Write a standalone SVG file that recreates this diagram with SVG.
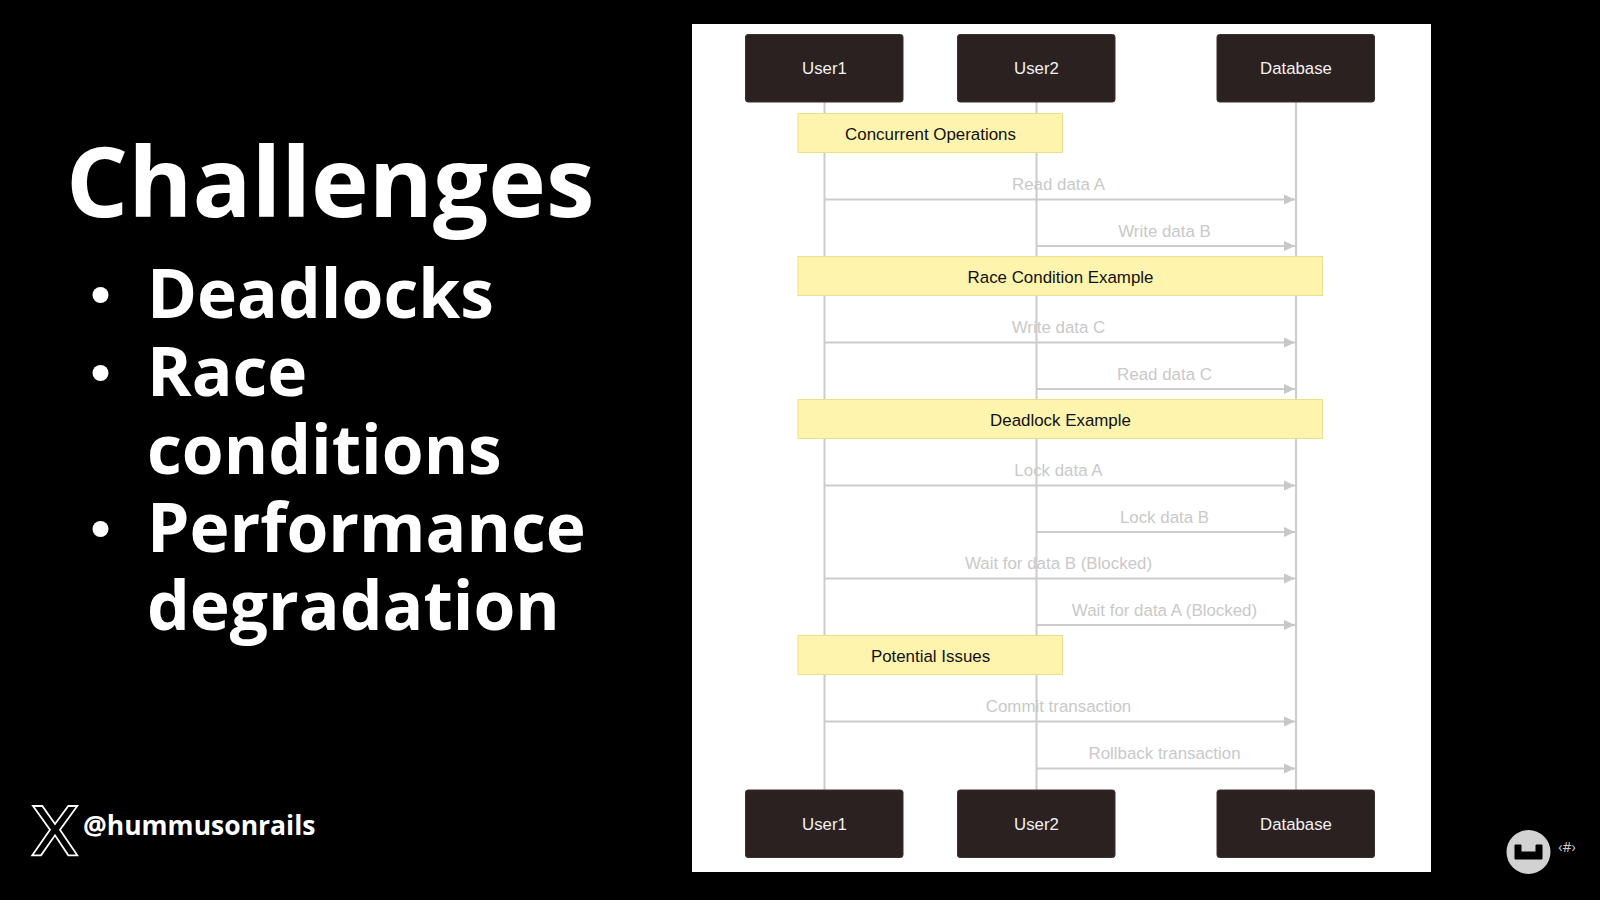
<svg xmlns="http://www.w3.org/2000/svg" width="1600" height="900" viewBox="0 0 1600 900">
<defs>
<marker id="ah" markerUnits="userSpaceOnUse" markerWidth="12" markerHeight="12" refX="11" refY="6" orient="auto"><path d="M0 1L11 6L0 11Z" fill="#c8c8c8"/></marker>
</defs>
<style>
.t{font-family:"Open Sans","Noto Sans",sans-serif;font-weight:700;fill:#fff}
.a{fill:#2b2120;stroke:#3a3130;stroke-width:1}
.at{font-family:"Liberation Sans",Arial,sans-serif;font-size:16.800px;fill:#f2f2f2;text-anchor:middle}
.n{fill:#fff4ad;stroke:#e9e08a;stroke-width:1}
.nt{font-family:"Liberation Sans",Arial,sans-serif;font-size:16.900px;fill:#111;text-anchor:middle}
.l{stroke:#cccccc;stroke-width:2;fill:none}
.m{stroke:#cccccc;stroke-width:2;fill:none;marker-end:url(#ah)}
.mt{font-family:"Liberation Sans",Arial,sans-serif;font-size:16.900px;fill:#c9c9c9;text-anchor:middle}
</style>
<rect width="1600" height="900" fill="#000"/>
<g id="slide-text">
<text class="t" x="66" y="217" font-size="97.700">Challenges</text>
<circle cx="100.500" cy="295" r="8" fill="#fff"/>
<text class="t" x="147" y="318" font-size="67.700">Deadlocks</text>
<circle cx="100.500" cy="373" r="8" fill="#fff"/>
<text class="t" x="147" y="396" font-size="67.700">Race</text>
<text class="t" x="147" y="474" font-size="67.700">conditions</text>
<circle cx="100.500" cy="529" r="8" fill="#fff"/>
<text class="t" x="147" y="552" font-size="67.700">Performance</text>
<text class="t" x="147" y="630" font-size="67.700">degradation</text>
</g>
<g id="handle">
<path d="M33 806H42.300L55 824L68.300 806H77.300L60 829.700L77.300 855.300H68.300L55 835.300L41 855.300H32.300L50 829.700Z" fill="none" stroke="#fff" stroke-width="1.800" stroke-linejoin="miter"/>
<text class="t" x="83" y="835" font-size="26.500">@hummusonrails</text>
</g>
<rect id="panel" x="692" y="24" width="739" height="848" fill="#fff"/>
<g id="connectors">
<path class="l" d="M824.500 102V790M1036.500 102V790M1296 102V790"/>
<path class="m" d="M825 199.500H1295"/>
<path class="m" d="M1037 246H1295"/>
<path class="m" d="M825 342.500H1295"/>
<path class="m" d="M1037 389H1295"/>
<path class="m" d="M825 485.500H1295"/>
<path class="m" d="M1037 532H1295"/>
<path class="m" d="M825 578.500H1295"/>
<path class="m" d="M1037 625H1295"/>
<path class="m" d="M825 721.500H1295"/>
<path class="m" d="M1037 768.500H1295"/>
<text class="mt" x="1058.500" y="190">Read data A</text>
<text class="mt" x="1164.500" y="236.500">Write data B</text>
<text class="mt" x="1058.500" y="333">Write data C</text>
<text class="mt" x="1164.500" y="379.500">Read data C</text>
<text class="mt" x="1058.500" y="476">Lock data A</text>
<text class="mt" x="1164.500" y="522.500">Lock data B</text>
<text class="mt" x="1058.500" y="569">Wait for data B (Blocked)</text>
<text class="mt" x="1164.500" y="615.500">Wait for data A (Blocked)</text>
<text class="mt" x="1058.500" y="712">Commit transaction</text>
<text class="mt" x="1164.500" y="758.500">Rollback transaction</text>
</g>
<g id="user1-top"><rect class="a" x="745.500" y="34.500" width="157.500" height="67.500" rx="2.500"/><text class="at" x="824.500" y="74">User1</text></g>
<g id="user2-top"><rect class="a" x="957.500" y="34.500" width="157.500" height="67.500" rx="2.500"/><text class="at" x="1036.500" y="74">User2</text></g>
<g id="database-top"><rect class="a" x="1217" y="34.500" width="157.500" height="67.500" rx="2.500"/><text class="at" x="1296" y="74">Database</text></g>
<g id="note-concurrent"><rect class="n" x="798" y="113.500" width="264.500" height="39"/><text class="nt" x="930.500" y="140">Concurrent Operations</text></g>
<g id="note-race"><rect class="n" x="798" y="256.500" width="524.500" height="39"/><text class="nt" x="1060.500" y="283">Race Condition Example</text></g>
<g id="note-deadlock"><rect class="n" x="798" y="399.500" width="524.500" height="39"/><text class="nt" x="1060.500" y="426">Deadlock Example</text></g>
<g id="note-issues"><rect class="n" x="798" y="635.500" width="264.500" height="39"/><text class="nt" x="930.500" y="662">Potential Issues</text></g>
<g id="user1-bottom"><rect class="a" x="745.500" y="790" width="157.500" height="67.500" rx="2.500"/><text class="at" x="824.500" y="829.500">User1</text></g>
<g id="user2-bottom"><rect class="a" x="957.500" y="790" width="157.500" height="67.500" rx="2.500"/><text class="at" x="1036.500" y="829.500">User2</text></g>
<g id="database-bottom"><rect class="a" x="1217" y="790" width="157.500" height="67.500" rx="2.500"/><text class="at" x="1296" y="829.500">Database</text></g>
<g id="logo">
<circle cx="1528.500" cy="852" r="22" fill="#d2d2d2"/>
<path d="M1515 845H1521V852H1536V845H1542V859H1515Z" fill="#000" stroke="#000" stroke-linejoin="round" stroke-width="1"/>
<text x="1567" y="852" font-family="'Open Sans',sans-serif" font-size="14" fill="#ccc" text-anchor="middle">‹#›</text>
</g>
</svg>
